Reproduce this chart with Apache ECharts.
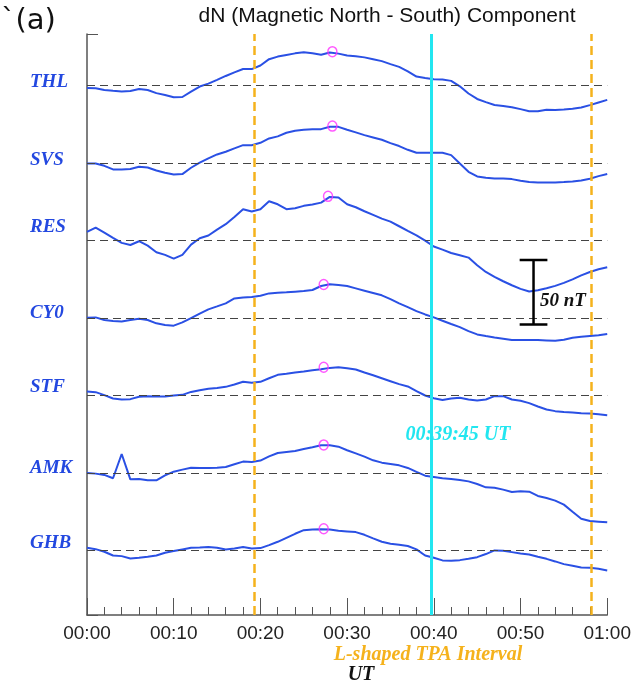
<!DOCTYPE html>
<html>
<head>
<meta charset="utf-8">
<script src="https://cdn.jsdelivr.net/npm/echarts@6/dist/echarts.min.js"></script>
<style>
  html, body { margin: 0; padding: 0; background: #fff; }
  #chart { width: 634px; height: 692px; }
</style>
</head>
<body>
<div id="chart"></div>
<script>
// minutes after 00:00 UT
var minutes = [0,1,2,3,4,5,6,7,8,9,10,11,12,13,14,15,16,17,18,19,20,
  21,22,23,24,25,26,27,28,29,30,31,32,33,34,35,36,37,38,39,40,
  41,42,43,44,45,46,47,48,49,50,51,52,53,54,55,56,57,58,59,60];

var stations = ['THL', 'SVS', 'RES', 'CY0', 'STF', 'AMK', 'GHB'];
var offsets = [410, 350, 290, 230, 170, 110, 50]; // nT, stack offset of each station

// dN deviation from baseline, nT
var dTHL = [-1.8,-2.0,-3.3,-4.0,-4.6,-4.2,-2.6,-3.4,-5.8,-7.2,-9.0,-8.8,-4.6,-0.7,1.6,4.5,7.5,10.3,12.9,12.8,15.6,
  20.5,22.5,23.8,25.0,25.8,25.1,24.0,25.6,24.8,23.3,22.7,21.9,20.5,19.0,16.7,14.5,11.1,7.0,5.9,4.9,
  4.8,3.7,-0.5,-6.1,-10.3,-12.8,-15.0,-15.7,-16.7,-18.2,-19.8,-19.9,-18.6,-18.8,-18.5,-17.9,-16.9,-15.1,-13.0,-11.0];
var dSVS = [-0.3,-0.3,-2.1,-4.9,-4.9,-4.6,-2.8,-3.4,-5.7,-7.5,-8.8,-8.5,-3.6,0.3,3.6,6.7,8.8,11.4,13.9,13.9,15.7,
  19.1,20.7,23.5,25.0,25.8,26.3,26.3,28.1,28.1,25.8,23.8,21.7,19.9,18.1,15.5,13.2,10.3,8.0,8.0,8.0,
  8.0,6.2,-0.3,-6.7,-10.3,-11.4,-11.9,-11.9,-12.4,-13.7,-14.7,-15.0,-15.0,-15.0,-14.7,-14.2,-13.4,-12.1,-10.1,-8.5];
var dRES = [6.7,10.1,6.2,2.1,-1.8,-3.4,-0.5,-3.9,-9.0,-11.1,-14.0,-11.1,-3.1,1.8,3.9,8.5,12.7,18.3,24.3,22.5,24.3,
  30.5,28.1,24.3,25.0,26.9,27.9,29.4,33.8,33.3,28.1,25.8,22.7,19.9,17.0,14.7,11.1,7.5,4.1,0,-4.6,
  -7.0,-9.6,-11.4,-13.2,-19.1,-24.3,-28.1,-31.5,-34.6,-37.4,-39.5,-38.5,-36.9,-35.1,-32.8,-30.0,-26.9,-24.3,-22.2,-20.7];
var dCY0 = [0.3,0.5,-1.5,-2.3,-2.6,-1.5,-0.5,-1.5,-4.1,-5.4,-5.9,-3.4,0,3.4,6.7,9.0,11.4,15.2,16.0,16.3,17.3,
  19.1,19.6,19.9,20.4,20.9,21.7,24.8,26.1,25.6,24.8,23.0,21.2,19.4,17.6,14.7,11.4,8.5,5.4,2.8,0.5,
  -2.1,-4.6,-7.0,-10.1,-12.7,-13.9,-15.0,-16.0,-17.0,-17.0,-17.0,-17.0,-17.3,-17.6,-16.8,-15.2,-14.5,-13.9,-13.4,-12.4];
var dSTF = [3.1,2.6,0.3,-2.3,-3.1,-2.8,-1.0,-0.5,-0.8,-0.8,0,0.5,2.8,4.1,5.2,5.9,6.7,8.5,10.6,9.8,10.6,
  13.4,16.0,16.8,17.8,18.6,19.6,20.4,21.4,21.9,21.2,20.1,17.8,15.7,13.4,11.1,8.8,7.0,3.4,0,-2.1,
  -3.4,-2.3,-1.8,-3.1,-3.9,-3.1,-0.5,-0.5,-3.1,-4.1,-5.9,-8.5,-10.8,-12.1,-12.7,-13.2,-13.7,-13.9,-14.5,-15.2];
var dAMK = [0,-0.5,-1.5,-4.1,14.7,-4.9,-4.6,-5.7,-5.7,-1.8,1.0,2.6,4.1,3.9,3.9,4.1,4.6,6.7,8.8,8.5,9.6,
  12.9,15.5,16.3,17.0,18.6,19.9,21.4,21.4,20.4,17.6,15.2,12.7,9.8,8.0,7.0,5.9,3.9,0.8,-2.1,-3.1,
  -4.1,-4.6,-5.4,-6.5,-8.5,-11.1,-11.4,-12.9,-14.7,-14.2,-14.5,-17.8,-19.4,-21.4,-24.5,-30.0,-35.4,-37.2,-37.7,-38.2];
var dGHB = [2.1,1.0,-1.0,-3.9,-4.4,-6.2,-5.7,-4.9,-3.9,-1.8,-0.5,0.8,2.1,2.3,2.6,2.1,0.8,1.5,2.6,1.5,1.8,
  4.1,6.7,9.8,12.9,15.7,16.3,16.5,16.3,15.2,14.7,14.2,12.1,9.3,6.7,5.2,4.4,3.4,0.8,-3.9,-5.7,
  -7.7,-8.0,-7.5,-6.5,-5.2,-2.8,0,-0.3,-1.3,-2.3,-3.1,-4.9,-6.5,-8.5,-10.6,-11.9,-13.2,-13.4,-14.2,-15.5];
var devs = [dTHL, dSVS, dRES, dCY0, dSTF, dAMK, dGHB];

// peak markers (magenta circles)
var peakMinute = [28.3, 28.3, 27.8, 27.3, 27.3, 27.3, 27.3];
var peakDev = [26.3, 28.7, 34.3, 26.0, 21.9, 21.7, 16.8];

var tpaInterval = [19.25, 58.2];   // L-shaped TPA interval (min)
var onsetMinute = 39.75;           // 00:39:45 UT
var scaleBarMinute = 51.5, scaleBarLow = 225, scaleBarNT = 50;

(function () {
  var traceColor = '#2a50e4'
  var labelFont = '"Liberation Serif", "DejaVu Serif", serif'
  var sansFont = '"Liberation Sans", Arial, sans-serif'

  function pad(n) { return n < 10 ? '0' + n : '' + n; }

  var myChart = echarts.init(document.getElementById('chart'));

  var series = [];
  stations.forEach(function (name, k) {
    series.push({
      type: 'line',
      name: name,
      data: minutes.map(function (m, i) { return [m, offsets[k] + devs[k][i]]; }),
      showSymbol: false,
      lineStyle: { color: traceColor, width: 2 },
      z: 3,
      markLine: {
        silent: true,
        symbol: 'none',
        label: { show: false },
        lineStyle: { color: '#444', type: [8, 5], width: 1 },
        data: [{ yAxis: offsets[k] }]
      }
    });
  });

  // vertical markers
  series.push({
    type: 'line',
    data: [],
    z: 4,
    markLine: {
      silent: true,
      symbol: 'none',
      label: { show: false },
      data: [
        { xAxis: tpaInterval[0], lineStyle: { color: '#f5b21c', type: [9, 5], width: 2.5 } },
        { xAxis: tpaInterval[1], lineStyle: { color: '#f5b21c', type: [9, 5], width: 2.5 } },
        { xAxis: onsetMinute, lineStyle: { color: '#22e6f0', type: 'solid', width: 3 } }
      ]
    }
  });

  // 50 nT scale bar
  var hw = 1.6;
  var barTop = scaleBarLow + scaleBarNT;
  series.push({
    type: 'line',
    data: [[scaleBarMinute - hw, barTop], [scaleBarMinute + hw, barTop], [scaleBarMinute, barTop],
           [scaleBarMinute, scaleBarLow], [scaleBarMinute - hw, scaleBarLow], [scaleBarMinute + hw, scaleBarLow]],
    showSymbol: false,
    lineStyle: { color: '#000', width: 2.5 },
    z: 5
  });

  // peak circles
  series.push({
    type: 'scatter',
    data: peakMinute.map(function (m, k) { return [m, offsets[k] + peakDev[k]]; }),
    symbol: 'circle',
    symbolSize: [9, 10],
    itemStyle: { color: 'rgba(0,0,0,0)', borderColor: '#ff30ff', borderWidth: 1.5 },
    z: 6
  });

  function txt(x, y, s, fill, font, align) {
    return { type: 'text', x: x, y: y, z: 10,
      style: { text: s, fill: fill, font: font, align: align || 'left', verticalAlign: 'middle' } };
  }

  var stationLabelY = [82, 160, 227, 313, 387, 468, 543];
  var graphics = stations.map(function (name, k) {
    return txt(30, stationLabelY[k], name, '#2348e0', 'italic bold 19px ' + labelFont);
  });
  graphics.push(
    txt(1, 21, '`(a)', '#111', '29px "DejaVu Sans", sans-serif'),
    txt(387, 16, 'dN (Magnetic North - South) Component', '#111', '21px ' + sansFont, 'center'),
    txt(458, 435, '00:39:45 UT', '#22e6f0', 'italic bold 20px ' + labelFont, 'center'),
    txt(563, 301, '50 nT', '#111', 'italic bold 19px ' + labelFont, 'center'),
    txt(428, 655, 'L-shaped TPA Interval', '#f5b21c', 'italic bold 20px ' + labelFont, 'center'),
    txt(361, 675, 'UT', '#111', 'italic bold 20px ' + labelFont, 'center')
  );

  myChart.setOption({
    backgroundColor: '#fff',
    animation: false,
    grid: { left: 87, right: 26, top: 34, bottom: 77 },
    xAxis: {
      type: 'value',
      min: 0,
      max: 60,
      interval: 10,
      axisLine: { lineStyle: { color: '#555', width: 1.5 } },
      axisTick: { inside: true, length: 17, lineStyle: { color: '#555', width: 1 } },
      minorTick: { show: true, splitNumber: 5, length: 8, lineStyle: { color: '#555', width: 1 } },
      axisLabel: {
        color: '#222',
        fontSize: 19,
        fontFamily: sansFont,
        margin: 9,
        formatter: function (v) { return pad(Math.floor(v / 60)) + ':' + pad(v % 60); }
      },
      splitLine: { show: false }
    },
    yAxis: {
      type: 'value',
      min: 0,
      max: 450,
      interval: 450,
      axisLine: { show: true, lineStyle: { color: '#555', width: 1.5 } },
      axisTick: { show: true, inside: true, length: 11, lineStyle: { color: '#555' } },
      axisLabel: { show: false },
      splitLine: { show: false }
    },
    graphic: graphics,
    series: series
  });
})();
</script>
</body>
</html>
